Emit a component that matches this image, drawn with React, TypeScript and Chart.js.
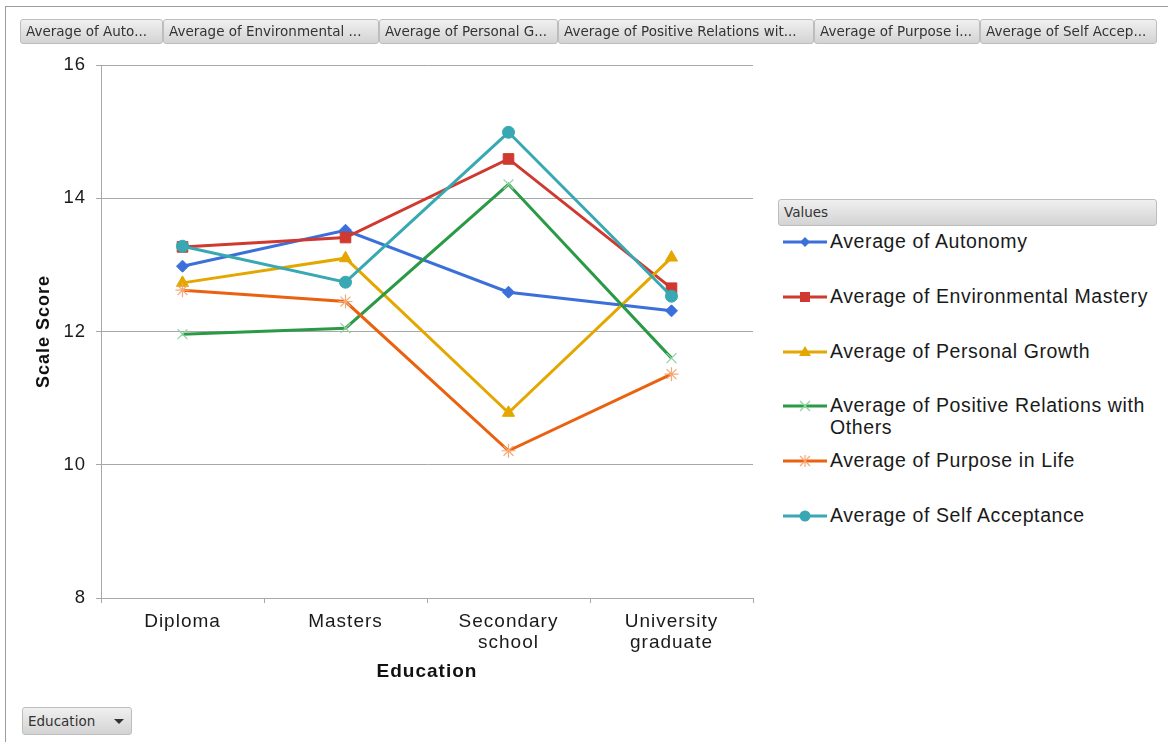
import React, { useEffect, useRef } from 'react';
import { Chart, registerables } from 'chart.js';

Chart.register(...registerables);

// Education levels on the x axis
const categories = ['Diploma', 'Masters', 'Secondary school', 'University graduate'];

// Average scale scores per education level
const autonomy = [12.98, 13.52, 12.59, 12.31];
const environmentalMastery = [13.27, 13.41, 14.59, 12.65];
const personalGrowth = [12.73, 13.1, 10.78, 13.11];
const positiveRelations = [11.96, 12.05, 14.21, 11.6];
const purposeInLife = [12.62, 12.45, 10.21, 11.36];
const selfAcceptance = [13.28, 12.74, 14.99, 12.53];

// Value axis range
const yMin = 8;
const yMax = 16;
const yStep = 2;

const seriesNames = [
  'Average of Autonomy',
  'Average of Environmental Mastery',
  'Average of Personal Growth',
  'Average of Positive Relations with Others',
  'Average of Purpose in Life',
  'Average of Self Acceptance',
];

// Field buttons across the top (truncated captions)
const fieldButtons = [
  'Average of Auto...',
  'Average of Environmental ...',
  'Average of Personal G...',
  'Average of Positive Relations wit...',
  'Average of Purpose i...',
  'Average of Self Accep...',
];

const seriesValues = [autonomy, environmentalMastery, personalGrowth, positiveRelations, purposeInLife, selfAcceptance];

type Style = { color: string; marker: string; markerColor: string; radius: number; markerWidth: number };
const styles: Style[] = [
  { color: '#3b6fd9', marker: 'rectRot', markerColor: '#3b6fd9', radius: 6, markerWidth: 1 },
  { color: '#d0392f', marker: 'rect', markerColor: '#d0392f', radius: 7.5, markerWidth: 1 },
  { color: '#e4a700', marker: 'triangle', markerColor: '#e4a700', radius: 7, markerWidth: 1 },
  { color: '#2b9a47', marker: 'crossRot', markerColor: '#8ed3a0', radius: 7, markerWidth: 1.2 },
  { color: '#ea6210', marker: 'star', markerColor: '#f5a775', radius: 7, markerWidth: 1.2 },
  { color: '#38a8b2', marker: 'circle', markerColor: '#38a8b2', radius: 6, markerWidth: 1 },
];

const FONT = '"Liberation Sans", Arial, sans-serif';
const UI_FONT = '"DejaVu Sans", Tahoma, sans-serif';
const GRID = '#a8a8a8';

const buttonStyle: React.CSSProperties = {
  position: 'absolute',
  height: 25,
  boxSizing: 'border-box',
  background: 'linear-gradient(#f0f0f0, #d3d3d3)',
  border: '1px solid #bdbdbd',
  borderRadius: 3,
  font: `13.5px ${UI_FONT}`,
  color: '#333',
  lineHeight: '23px',
  paddingLeft: 5,
  whiteSpace: 'nowrap',
  overflow: 'hidden',
};

// Slightly open letter spacing for all canvas text
const letterSpacingPlugin = {
  id: 'letterSpacing',
  beforeUpdate(chart: any) {
    chart.ctx.letterSpacing = '1px';
  },
  beforeDraw(chart: any) {
    chart.ctx.letterSpacing = '1px';
  },
};

function Marker({ s }: { s: Style }) {
  const cx = 22;
  const cy = 8;
  let shape: React.ReactNode = null;
  if (s.marker === 'rectRot') {
    shape = <polygon points={`${cx},${cy - 5} ${cx + 5},${cy} ${cx},${cy + 5} ${cx - 5},${cy}`} fill={s.color} />;
  } else if (s.marker === 'rect') {
    shape = <rect x={cx - 5} y={cy - 5} width={10} height={10} fill={s.color} />;
  } else if (s.marker === 'triangle') {
    shape = <polygon points={`${cx},${cy - 6} ${cx + 6},${cy + 4} ${cx - 6},${cy + 4}`} fill={s.color} />;
  } else if (s.marker === 'crossRot') {
    shape = (
      <g stroke={s.markerColor} strokeWidth={1.2}>
        <line x1={cx - 5} y1={cy - 5} x2={cx + 5} y2={cy + 5} />
        <line x1={cx - 5} y1={cy + 5} x2={cx + 5} y2={cy - 5} />
      </g>
    );
  } else if (s.marker === 'star') {
    shape = (
      <g stroke={s.markerColor} strokeWidth={1.2}>
        <line x1={cx - 5} y1={cy - 5} x2={cx + 5} y2={cy + 5} />
        <line x1={cx - 5} y1={cy + 5} x2={cx + 5} y2={cy - 5} />
        <line x1={cx} y1={cy - 6} x2={cx} y2={cy + 6} />
      </g>
    );
  } else {
    shape = <circle cx={cx} cy={cy} r={5.5} fill={s.color} />;
  }
  return (
    <svg width={44} height={16} style={{ position: 'absolute', left: 0, top: 4 }}>
      <line x1={0} y1={cy} x2={44} y2={cy} stroke={s.color} strokeWidth={3} />
      {shape}
    </svg>
  );
}

export default function App() {
  const canvasRef = useRef<HTMLCanvasElement | null>(null);

  useEffect(() => {
    const canvas = canvasRef.current;
    if (!canvas) return;
    const chart = new Chart(canvas, {
      type: 'line',
      plugins: [letterSpacingPlugin],
      data: {
        labels: categories,
        datasets: seriesValues.map((values, i) => ({
          label: seriesNames[i],
          data: values,
          // later series are painted over earlier ones
          order: seriesValues.length - i,
          borderColor: styles[i].color,
          backgroundColor: styles[i].markerColor,
          borderWidth: 3,
          pointStyle: styles[i].marker as any,
          pointRadius: styles[i].radius,
          pointBorderColor: styles[i].markerColor,
          pointBackgroundColor: styles[i].markerColor,
          pointBorderWidth: styles[i].markerWidth,
          tension: 0,
          fill: false,
        })),
      },
      options: {
        animation: false,
        responsive: false,
        maintainAspectRatio: false,
        layout: { padding: { top: 65, right: 17, left: 0, bottom: 0 } },
        plugins: {
          legend: { display: false },
          tooltip: { enabled: false },
        },
        scales: {
          x: {
            type: 'category',
            offset: true,
            grid: {
              offset: true,
              drawOnChartArea: false,
              drawTicks: true,
              tickLength: 5,
              color: GRID,
            },
            border: { color: GRID, width: 1 },
            ticks: {
              autoSkip: false,
              maxRotation: 0,
              padding: 8,
              color: '#1a1a1a',
              font: { family: FONT, size: 19, lineHeight: '21px' },
              callback: function (this: any, value: any) {
                return String(this.getLabelForValue(value)).split(' ');
              },
            },
            title: {
              display: true,
              text: 'Education',
              color: '#111',
              font: { family: FONT, size: 19, weight: 'bold' },
              padding: { top: 0, bottom: 17 },
            },
            afterFit: (scale: any) => {
              scale.height = 102;
            },
          },
          y: {
            min: yMin,
            max: yMax,
            ticks: {
              stepSize: yStep,
              padding: 10,
              color: '#1a1a1a',
              font: { family: FONT, size: 18.5 },
            },
            grid: { color: GRID, tickLength: 5 },
            border: { color: GRID, width: 1 },
            title: {
              display: true,
              text: 'Scale Score',
              color: '#111',
              font: { family: FONT, size: 18, weight: 'bold' },
              padding: { top: 33, bottom: 0 },
            },
            afterFit: (scale: any) => {
              scale.width = 101;
            },
          },
        },
      },
    });
    return () => chart.destroy();
  }, []);

  const buttonLefts = [20, 163, 379, 558, 814, 980];
  const buttonRights = [162, 378, 557, 813, 979, 1156];

  return (
    <div
      style={{
        position: 'fixed',
        left: 0,
        top: 0,
        width: 1168,
        height: 742,
        background: '#fff',
        overflow: 'hidden',
      }}
    >
      {/* frame */}
      <div
        style={{
          position: 'absolute',
          left: 5,
          top: 6,
          right: 0,
          bottom: -2,
          borderLeft: '1px solid #9c9c9c',
          borderTop: '1px solid #9c9c9c',
        }}
      />
      <canvas ref={canvasRef} width={770} height={700} style={{ position: 'absolute', left: 0, top: 0 }} />

      {fieldButtons.map((t, i) => (
        <div key={t} style={{ ...buttonStyle, left: buttonLefts[i], top: 19, width: buttonRights[i] - buttonLefts[i] + 1 }}>
          {t}
        </div>
      ))}

      {/* legend */}
      <div style={{ ...buttonStyle, left: 778, top: 199, width: 379, height: 27, lineHeight: '25px' }}>Values</div>
      {seriesNames.map((name, i) => (
        <div key={name} style={{ position: 'absolute', left: 783, top: 230 + i * 54.8, width: 380 }}>
          <Marker s={styles[i]} />
          <div
            style={{
              marginLeft: 47,
              font: `19.5px ${FONT}`,
              letterSpacing: '0.6px',
              lineHeight: '22px',
              color: '#1a1a1a',
              width: 330,
            }}
          >
            {name}
          </div>
        </div>
      ))}

      {/* row field button */}
      <div style={{ ...buttonStyle, left: 22, top: 707, width: 110, height: 28, lineHeight: '26px' }}>
        Education
        <svg width={10} height={6} style={{ position: 'absolute', left: 91, top: 11 }}>
          <polygon points="0,0 10,0 5,5" fill="#333" />
        </svg>
      </div>
    </div>
  );
}
